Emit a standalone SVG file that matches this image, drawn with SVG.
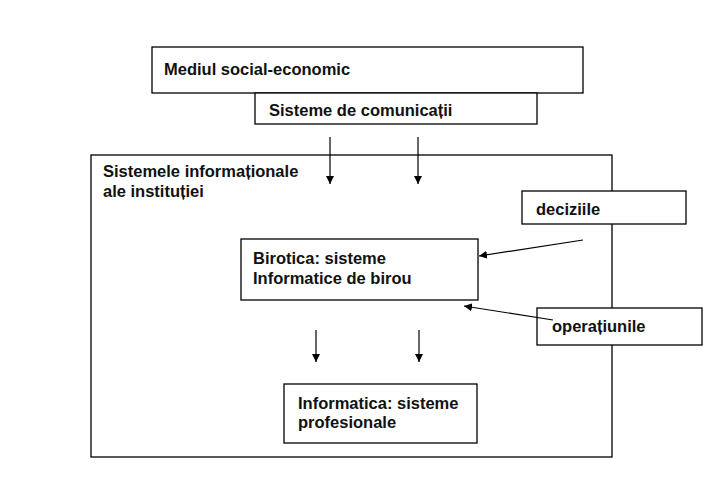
<svg xmlns="http://www.w3.org/2000/svg" width="728" height="485" viewBox="0 0 728 485">
<style>
.box{fill:#fff;stroke:#000;stroke-width:1.3}
.t{font-family:"Liberation Sans",Arial,sans-serif;font-weight:bold;font-size:16.5px;fill:#111}
.c{stroke:#000;stroke-width:1.2;fill:none}
</style>
<defs>
<marker id="ah" viewBox="0 0 10 10" refX="10" refY="5" markerWidth="8" markerHeight="8" markerUnits="userSpaceOnUse" orient="auto">
<path d="M0,0 L10,5 L0,10 z" fill="#000"/>
</marker>
</defs>
<rect width="728" height="485" fill="#fff"/>
<g id="outer">
<rect class="box" x="91" y="155" width="521" height="302"/>
<text class="t" x="103" y="177">Sistemele informaționale</text>
<text class="t" x="103" y="197">ale instituției</text>
</g>
<g id="mediul">
<rect class="box" x="152" y="47" width="431" height="46"/>
<text class="t" x="164" y="75">Mediul social-economic</text>
</g>
<g id="comunicatii">
<rect class="box" x="255" y="93" width="282" height="31"/>
<text class="t" x="269" y="116">Sisteme de comunicații</text>
</g>
<g id="deciziile">
<rect class="box" x="522" y="191" width="164" height="33"/>
<text class="t" x="536" y="215">deciziile</text>
</g>
<g id="birotica">
<rect class="box" x="241" y="239" width="237" height="61"/>
<text class="t" x="253" y="264">Birotica: sisteme</text>
<text class="t" x="253" y="284">Informatice de birou</text>
</g>
<g id="operatiunile">
<rect class="box" x="537" y="308" width="165" height="37"/>
<text class="t" x="552" y="332">operațiunile</text>
</g>
<g id="informatica">
<rect class="box" x="284" y="384" width="193" height="59"/>
<text class="t" x="298" y="409">Informatica: sisteme</text>
<text class="t" x="298" y="428">profesionale</text>
</g>
<g id="connectors">
<line class="c" x1="330" y1="137" x2="330" y2="184" marker-end="url(#ah)"/>
<line class="c" x1="418" y1="137" x2="418" y2="184" marker-end="url(#ah)"/>
<line class="c" x1="583" y1="240" x2="479" y2="256" marker-end="url(#ah)"/>
<line class="c" x1="553" y1="320" x2="464" y2="306" marker-end="url(#ah)"/>
<line class="c" x1="316" y1="330" x2="316" y2="362" marker-end="url(#ah)"/>
<line class="c" x1="419" y1="330" x2="419" y2="362" marker-end="url(#ah)"/>
</g>
</svg>
